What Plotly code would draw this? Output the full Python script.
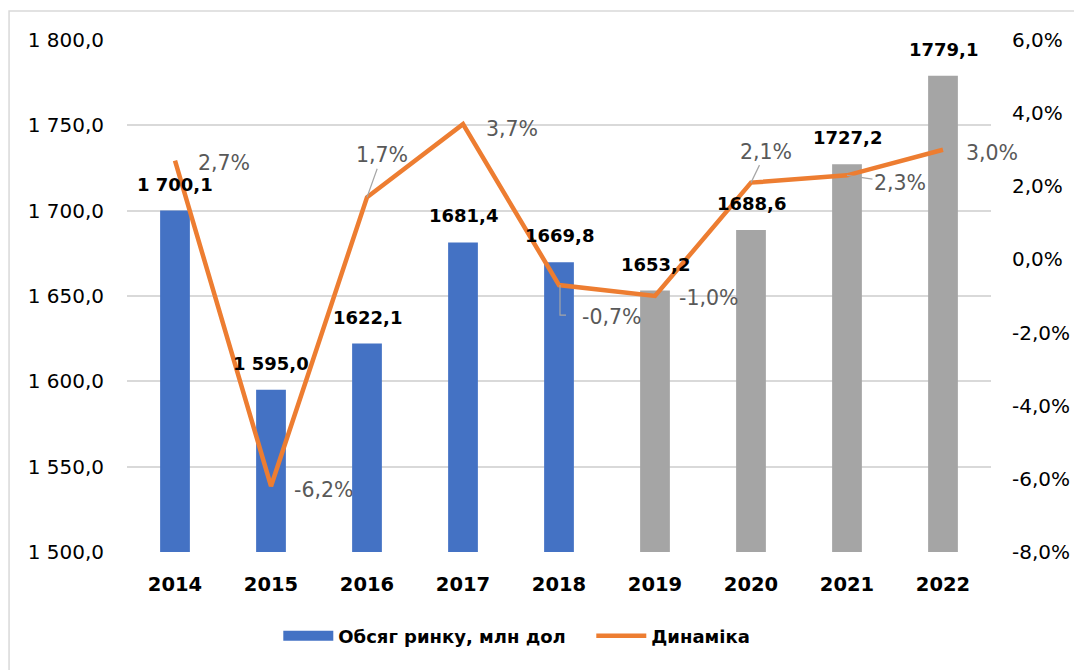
import plotly.graph_objects as go

years = ["2014", "2015", "2016", "2017", "2018", "2019", "2020", "2021", "2022"]
market = [1700.1, 1595.0, 1622.1, 1681.4, 1669.8, 1653.2, 1688.6, 1727.2, 1779.1]
market_labels = ["1 700,1", "1 595,0", "1622,1", "1681,4", "1669,8", "1653,2", "1688,6", "1727,2", "1779,1"]
growth = [2.7, -6.2, 1.7, 3.7, -0.7, -1.0, 2.1, 2.3, 3.0]
growth_labels = ["2,7%", "-6,2%", "1,7%", "3,7%", "-0,7%", "-1,0%", "2,1%", "2,3%", "3,0%"]
left_ticks = [1500, 1550, 1600, 1650, 1700, 1750, 1800]
left_ticktext = ["1 500,0", "1 550,0", "1 600,0", "1 650,0", "1 700,0", "1 750,0", "1 800,0"]
right_ticks = [-8, -6, -4, -2, 0, 2, 4, 6]
right_ticktext = ["-8,0%", "-6,0%", "-4,0%", "-2,0%", "0,0%", "2,0%", "4,0%", "6,0%"]
forecast_from = "2019"

BLUE = "#4472C4"
GREY = "#A5A5A5"
ORANGE = "#ED7D31"
LEADER = "#A6A6A6"
FONT = "DejaVu Sans"

bar_colors = [BLUE if int(y) < int(forecast_from) else GREY for y in years]

# label offsets (pixels): (dx, dy-down, leader: None / "arrow" / "elbow")
label_style = [(49, 2, None), (52, 4, None), (15, -42, "arrow"), (49, 5, None),
               (52, 32, "elbow"), (53, 2, None), (15, -31, "arrow"), (53, 8, "arrow"), (49, 3, None)]

fig = go.Figure()
fig.add_trace(go.Bar(x=years, y=market, name="Обсяг ринку, млн дол",
                     marker=dict(color=bar_colors, line=dict(width=0)),
                     width=0.31, yaxis="y", showlegend=False))
# legend swatch for the bar series (wide rectangle like the original)
fig.add_trace(go.Scatter(x=[None], y=[None], name="Обсяг ринку, млн дол", mode="lines",
                         line=dict(color=BLUE, width=13), yaxis="y", showlegend=True))
fig.add_trace(go.Scatter(x=years, y=growth, name="Динаміка", mode="lines",
                         line=dict(color=ORANGE, width=4.5), yaxis="y2"))

ann = []
shapes = []
for i, (v, t) in enumerate(zip(market, market_labels)):
    ann.append(dict(x=i, y=v, xref="x", yref="y", text=f"<b>{t}</b>", showarrow=False,
                    yanchor="bottom", yshift=14, font=dict(family=FONT, size=18, color="#000000")))
for i, (v, t, (dx, dy, lead)) in enumerate(zip(growth, growth_labels, label_style)):
    if lead == "arrow":
        ann.append(dict(x=i, y=v, xref="x", yref="y2", text=t, showarrow=True,
                        arrowhead=0, arrowwidth=1.2, arrowcolor=LEADER,
                        ax=dx, ay=dy, standoff=0,
                        font=dict(family=FONT, size=20.5, color="#595959")))
    else:
        ann.append(dict(x=i, y=v, xref="x", yref="y2", text=t, showarrow=False,
                        xshift=dx, yshift=-dy,
                        font=dict(family=FONT, size=20.5, color="#595959")))
        if lead == "elbow":
            shapes.append(dict(type="path", xref="x", yref="y2",
                               xsizemode="pixel", ysizemode="pixel",
                               xanchor=i, yanchor=v,
                               path=f"M1,0 L1,{-dy + 2} L{dx - 45},{-dy + 2}",
                               line=dict(color=LEADER, width=1.2)))

W, H = 1074, 662
ml, mr, mt, mb = 119, 87, 32, 118
pw, ph = W - ml - mr, H - mt - mb
shapes.append(dict(type="rect", xref="paper", yref="paper",
                   x0=(0.5 - ml) / pw, x1=(W + 5 - ml) / pw,
                   y0=-(H + 5 - mt - ph) / ph, y1=1 + (mt - 3) / ph,
                   line=dict(color="#D9D9D9", width=1.5), layer="below"))

fig.update_layout(
    width=W, height=H,
    margin=dict(l=ml, r=mr, t=mt, b=mb),
    paper_bgcolor="white", plot_bgcolor="white",
    font=dict(family=FONT, size=18, color="#000000"),
    showlegend=True,
    legend=dict(orientation="h", x=(279 - 8 - ml) / pw, xanchor="left",
                y=-(628 - (H - mb)) / ph, yanchor="middle",
                font=dict(family=FONT, size=18, color="#000000", weight="bold"),
                traceorder="normal", itemwidth=50, entrywidth=248),
    xaxis=dict(type="category", categoryorder="array", categoryarray=years,
               range=[-0.5, len(years) - 0.5], autorange=False,
               showgrid=False, showline=False, ticks="",
               tickfont=dict(family=FONT, size=19.5, color="#000000", weight="bold"),
               ticklabelstandoff=18),
    yaxis=dict(range=[1500, 1800], tickvals=left_ticks, ticktext=left_ticktext,
               showgrid=True, gridcolor="#D9D9D9", gridwidth=1.5, zeroline=False,
               showline=False, ticks="", ticklabelstandoff=22,
               tickfont=dict(family=FONT, size=20, color="#000000")),
    yaxis2=dict(range=[-8, 6], tickvals=right_ticks, ticktext=right_ticktext,
                overlaying="y", side="right", showgrid=False, zeroline=False,
                showline=False, ticks="", ticklabelstandoff=20,
                tickfont=dict(family=FONT, size=20, color="#000000")),
    annotations=ann,
    shapes=shapes,
)

fig.write_html("out.html")
